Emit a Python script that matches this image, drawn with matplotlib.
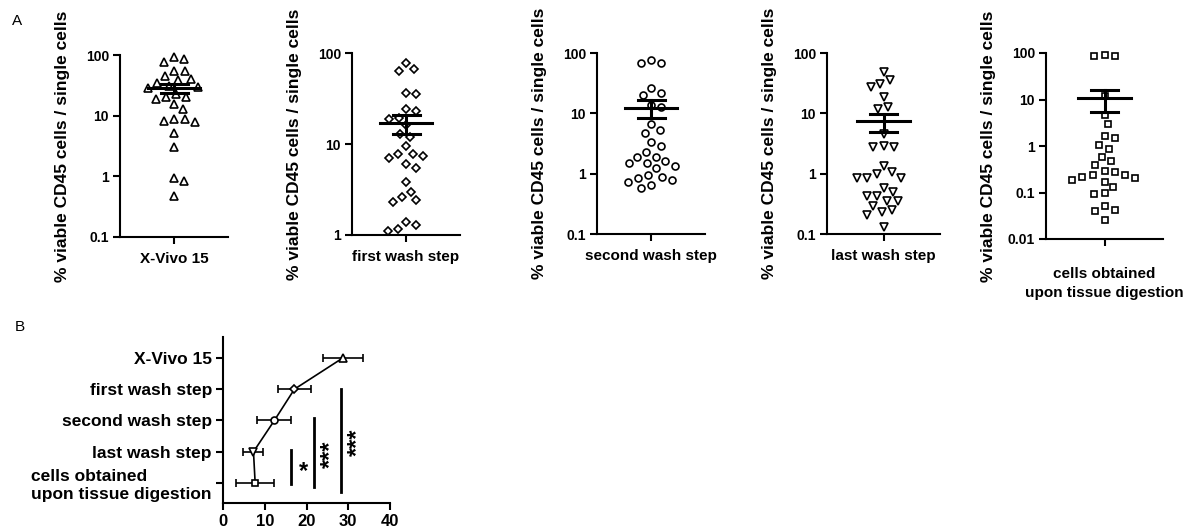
import numpy as np
import matplotlib.pyplot as plt
from matplotlib.ticker import FixedLocator, NullLocator
from matplotlib.transforms import offset_copy

plt.rcParams['font.family'] = ['Liberation Sans', 'DejaVu Sans']
plt.rcParams['font.weight'] = 'bold'
plt.rcParams['axes.labelweight'] = 'bold'

groups = ['X-Vivo 15', 'first wash step', 'second wash step', 'last wash step',
          'cells obtained\nupon tissue digestion']

# panel A: % viable CD45 cells / single cells, one value per sample
xvivo = [85, 78, 92, 55, 55, 45, 40, 38, 34, 29, 30, 31, 20.5, 18.5, 23, 20.5,
         13, 15.5, 8.0, 8.7, 8.7, 8.2, 5.1, 3.0, 0.95, 0.83, 0.47]
first_wash = [66, 64, 78, 36, 35, 24, 23, 19, 19.5, 16, 13, 12, 9.4, 7.8, 7.0,
              7.8, 7.3, 6.0, 5.4, 3.8, 3.0, 2.3, 2.4, 2.6, 1.38, 1.3, 1.15, 1.12]
second_wash = [68, 67, 76, 26, 22, 20.5, 12.5, 13.7, 6.6, 5.3, 4.7, 3.3, 2.9, 2.3,
               1.6, 1.9, 1.5, 1.35, 1.9, 1.5, 1.22, 0.95, 0.87, 0.85, 0.74, 0.8,
               0.65, 0.57]
last_wash = [49, 36, 31, 27, 18.3, 12.8, 11.6, 4.5, 2.8, 2.9, 2.8, 1.34, 1.05,
             0.86, 0.86, 0.97, 0.84, 0.58, 0.50, 0.42, 0.42, 0.35, 0.35, 0.29,
             0.25, 0.23, 0.21, 0.13]
tissue = [88, 88, 91, 11.7, 4.7, 2.9, 1.5, 1.07, 1.66, 0.87, 0.59, 0.47, 0.40,
          0.24, 0.21, 0.19, 0.27, 0.22, 0.29, 0.24, 0.17, 0.13, 0.095, 0.098,
          0.050, 0.043, 0.040, 0.025]
panel_a = [xvivo, first_wash, second_wash, last_wash, tissue]
yticks_a = [[0.1, 1, 10, 100], [1, 10, 100], [0.1, 1, 10, 100],
            [0.1, 1, 10, 100], [0.01, 0.1, 1, 10, 100]]
yticklabels_a = [['0.1', '1', '10', '100'], ['1', '10', '100'],
                 ['0.1', '1', '10', '100'], ['0.1', '1', '10', '100'],
                 ['0.01', '0.1', '1', '10', '100']]

# panel B: mean +/- SEM
b_mean = [28.7, 17.1, 12.3, 7.3, 7.7]
b_sem = [4.75, 3.95, 4.05, 2.4, 4.55]
sig_x = [16.3, 21.9, 28.3]
sig_from = [2.94, 1.92, 0.99]
sig_to = [4.03, 4.13, 4.29]
sig_text = ['*', '***', '***']
sig_text_x = [19.4, 24.8, 31.2]
sig_text_y = [3.49, 3.07, 2.69]

markers = ['^', 'D', 'o', 'v', 's']
msizes = [6.0, 4.3, 5.0, 6.0, 4.6]

W, H = 1196, 530
fig = plt.figure(figsize=(W / 100, H / 100), dpi=100)


def px_axes(left, right, top, bottom):
    return fig.add_axes([left / W, 1 - bottom / H, (right - left) / W, (bottom - top) / H])


def swarm(ax, vals, diam):
    vals = np.asarray(vals, dtype=float)
    y = ax.transData.transform(np.column_stack([np.zeros(len(vals)), vals]))[:, 1]
    xs = np.full(len(vals), np.nan)
    for i in np.argsort(-vals):
        placed = np.where(~np.isnan(xs))[0]
        cands = [0.0]
        for j in placed:
            dy = y[i] - y[j]
            if abs(dy) < diam:
                dx = np.sqrt(diam ** 2 - dy ** 2)
                cands += [xs[j] + dx, xs[j] - dx]
        cands.sort(key=abs)
        for c in cands:
            if all((c - xs[j]) ** 2 + (y[i] - y[j]) ** 2 >= diam ** 2 - 1e-6 for j in placed):
                xs[i] = c
                break
    return xs


boxes = [(120, 228, 55, 237), (352, 460, 53, 235), (597, 705, 53, 234),
         (827, 940, 53, 234), (1046, 1163, 53, 239)]
unit = 54.0  # pixels per x data unit

for k, (vals, box) in enumerate(zip(panel_a, boxes)):
    left, right, top, bottom = box
    ax = px_axes(*box)
    half = (right - left) / 2 / unit
    ax.set_xlim(-half, half)
    ax.set_yscale('log')
    ax.set_ylim(yticks_a[k][0], yticks_a[k][-1])
    ax.yaxis.set_major_locator(FixedLocator(yticks_a[k]))
    ax.yaxis.set_minor_locator(NullLocator())
    ax.set_yticklabels(yticklabels_a[k], fontsize=10, fontweight='bold')
    ax.set_xticks([0])
    ax.set_xticklabels([groups[k]], fontsize=11, fontweight='bold', linespacing=1.45)
    for s in ['top', 'right']:
        ax.spines[s].set_visible(False)
    for s in ['left', 'bottom']:
        ax.spines[s].set_linewidth(1.5)
    ax.tick_params(width=1.5, length=5, pad=3)
    ax.tick_params(axis='x', pad=15 if '\n' in groups[k] else 5.5)

    offs = swarm(ax, vals, 10.5) / unit
    ax.plot(offs, vals, linestyle='none', marker=markers[k], ms=msizes[k],
            mfc='white', mec='black', mew=1.2, zorder=3, clip_on=False)

    v = np.asarray(vals)
    m = v.mean()
    sem = v.std(ddof=1) / np.sqrt(len(v))
    ax.plot([-0.49, 0.49], [m, m], color='black', lw=2.2, zorder=4)
    ax.plot([0, 0], [m - sem, m + sem], color='black', lw=2.2, zorder=4)
    ax.plot([-0.25, 0.25], [m + sem, m + sem], color='black', lw=2.2, zorder=4)
    ax.plot([-0.25, 0.25], [m - sem, m - sem], color='black', lw=2.2, zorder=4)

    ax.set_ylabel('% viable CD45 cells / single cells', fontsize=12.5, fontweight='bold')
    ax.yaxis.set_label_coords(-50 / (right - left), 0.5)

fig.text(12 / W, 1 - 25 / H, 'A', fontsize=11, fontweight='normal')
fig.text(15 / W, 1 - 331 / H, 'B', fontsize=11, fontweight='normal')

# panel B
axb = px_axes(223, 390, 337, 503)
ypos = np.arange(len(groups))
axb.set_xlim(0, 40)
axb.set_ylim(4.64, -0.67)
axb.plot(b_mean, ypos, color='black', lw=1.2, zorder=2)
axb.errorbar(b_mean, ypos, xerr=b_sem, fmt='none', ecolor='black',
             elinewidth=1.2, capsize=2.6, capthick=1.2, zorder=2)
for k in range(len(groups)):
    axb.plot(b_mean[k], ypos[k], linestyle='none', marker=markers[k], ms=msizes[k],
             mfc='white', mec='black', mew=1.2, zorder=3)
for x, y0, y1 in zip(sig_x, sig_from, sig_to):
    axb.plot([x, x], [y0, y1], color='black', lw=2.0)
for x, y, t in zip(sig_text_x, sig_text_y, sig_text):
    if len(t) > 1:
        tr = offset_copy(axb.transData, fig=fig, x=3, y=0, units='points')
    else:
        tr = offset_copy(axb.transData, fig=fig, x=0, y=-3, units='points')
    axb.text(x, y, t, fontsize=17, fontweight='bold', ha='center', va='center',
             rotation=90 if len(t) > 1 else 0, transform=tr)
axb.set_yticks(ypos)
axb.set_yticklabels(groups, fontsize=12.5, fontweight='bold')
axb.get_yticklabels()[-1].set_multialignment('left')
axb.set_xticks([0, 10, 20, 30, 40])
axb.set_xticklabels(['0', '10', '20', '30', '40'], fontsize=12, fontweight='bold')
for s in ['top', 'right']:
    axb.spines[s].set_visible(False)
for s in ['left', 'bottom']:
    axb.spines[s].set_linewidth(1.5)
axb.tick_params(width=1.5, length=5, pad=3)

fig.savefig('out.png', dpi=100)
